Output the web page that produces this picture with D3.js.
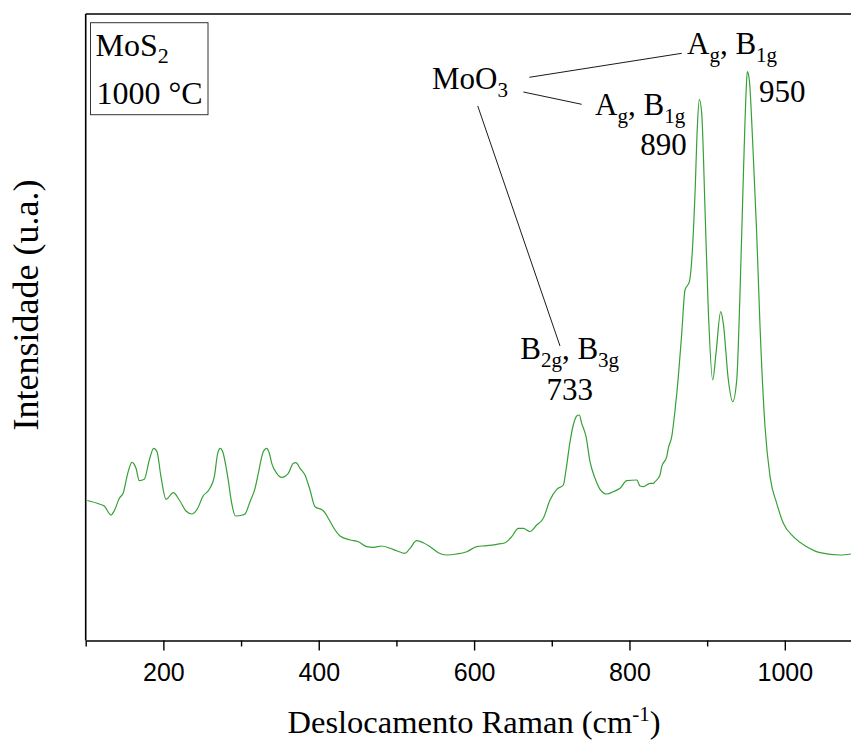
<!DOCTYPE html>
<html>
<head>
<meta charset="utf-8">
<script src="https://cdn.jsdelivr.net/npm/d3@7"></script>
<style>
  body { margin: 0; background: #fff; }
  svg { display: block; }
  .serif { font-family: "Liberation Serif", "Times New Roman", serif; fill: #000; }
</style>
</head>
<body>
<div id="chart"></div>
<script>
// Raman spectrum, MoS2 annealed at 1000 C
var ramanShift = [
  102, 117.5, 123.9, 132.6, 136.8, 143.3, 148.4, 154.1, 159.6, 164.8,
  169, 175.4, 181.9, 187.5, 191.8, 196.9, 203.4, 212.8, 220.5, 229.1,
  236.9, 244.2, 250.6, 259.1, 265.6, 269.9, 273.3, 276.4, 282.8, 288,
  292.6, 302.1, 305.1, 311.5, 318, 322.2, 328.6, 333, 336.4, 339.5,
  345.9, 352.3, 360.8, 367.3, 370.7, 375.9, 382.3, 388.8, 395.2, 405.9,
  413.6, 421, 427.4, 440.3, 450.9, 461.8, 470.3, 481.1, 491.8, 500.4,
  511.1, 517.5, 526.1, 534.6, 543.3, 553.9, 564.8, 577.6, 590.5, 603.4,
  616.2, 629.1, 639.8, 648.4, 656.9, 663.4, 672, 680.6, 689.1, 697.7,
  706.4, 714.9, 718.3, 723.5, 727.7, 732.1, 735.5, 738.5, 744.1, 749.2,
  755.7, 762.1, 770.7, 779.2, 787.8, 796.5, 809.4, 813.6, 817.8, 826.5,
  830.7, 832.9, 839.3, 841.5, 848, 850, 854.4, 858.7, 862.9, 867.3,
  871.5, 877.1, 880.2, 884.4, 887.4, 889.9, 893, 897.3, 901.5, 907.2,
  911.4, 917.5, 920.8, 927.3, 932.9, 938.1, 942.3, 946.6, 950.1, 951.7,
  954.3, 958.7, 963.8, 968.1, 974.5, 981, 989.6, 998.1, 1011, 1028.2,
  1045.3, 1071.1, 1085.2
];
var intensity = [
  140, 136.5, 134.5, 125.5, 129.8, 142.2, 147.8, 167.2, 178.2, 172.2,
  159.8, 161.2, 180.5, 192.2, 188.8, 163.8, 141.2, 147.8, 140.5, 129.5,
  126.5, 132.2, 143.8, 151.2, 163.8, 187.2, 192.2, 188.8, 163.8, 137.2,
  124.5, 125.5, 126.5, 138.8, 152.2, 167.2, 188.8, 192.2, 187.2, 177.2,
  167.2, 163.2, 167.2, 177.2, 177.8, 172.2, 165.5, 150.5, 133.8, 129.8,
  120.5, 110.5, 104.5, 100.5, 98.8, 93.8, 93.2, 94.5, 92.2, 89.8,
  87.2, 92.2, 99.8, 97.8, 93.8, 87.8, 85.5, 86.5, 88.8, 93.8,
  94.8, 96.2, 97.8, 103.8, 112.2, 112.2, 109, 115.5, 122.2, 140.5,
  151.2, 155.5, 170.5, 198.8, 215.5, 224.5, 225.5, 217.2, 203.8, 178.8,
  162.2, 151.2, 146.5, 148.8, 152.2, 159.8, 160.5, 154.5, 153.8, 157.2,
  157.2, 158.8, 165.5, 173.8, 183.8, 192.2, 203.8, 230.5, 263.8, 307.2,
  350.5, 358.8, 380.5, 447.2, 513.8, 541.2, 527.2, 430.5, 330.5, 260.5,
  287.2, 328.8, 317.2, 260.5, 238.8, 260.5, 347.2, 463.8, 547.2, 568.8,
  560.5, 497.2, 407.2, 313.8, 213.8, 163.8, 137.2, 117.2, 103.8, 93.8,
  87.8, 85.5, 86.5
];

var majorTicks = [200, 400, 600, 800, 1000];
var minorTicks = [100, 300, 500, 700, 900, 1100];

// peak labels: [wavenumber, intensity] anchors in data units
var labelMoO3 = [545.8, 551.5];
var labelTopMode = [874.1, 586.5];
var labelMidMode = [755.7, 525.5];
var label890 = [873.7, 485.5];
var label950 = [966.8, 538.8];
var labelBMode = [723, 281.5];
var label733 = [723, 240.5];
var leaders = [
  [[671.1, 563.2], [867.3, 587.2]],
  [[663.4, 548.5], [738.5, 536.2]],
  [[604.7, 534.5], [710.6, 294.5]]
];

var width = 851;
var height = 740;
var plotLeft = 85.7, plotTop = 14, plotBottom = 640.5;

var svg = d3
  .select('#chart')
  .append('svg')
  .attr('width', width)
  .attr('height', height)
;

var x = d3.scaleLinear().domain([100, 1100]).range([plotLeft, plotLeft + 776.8]);
var y = d3.scaleLinear().domain([0, 626.5]).range([plotBottom, plotTop]);

// frame: top and left lines
svg.append('line')
  .attr('x1', plotLeft).attr('x2', x(1100))
  .attr('y1', plotTop).attr('y2', plotTop)
  .attr('stroke', '#000').attr('stroke-width', 1.6)
;
svg.append('line')
  .attr('x1', plotLeft).attr('x2', plotLeft)
  .attr('y1', plotTop).attr('y2', plotBottom)
  .attr('stroke', '#000').attr('stroke-width', 1.6)
;

var xAxis = svg
  .append('g')
  .attr('transform', 'translate(0,' + plotBottom + ')')
  .call(d3.axisBottom(x).tickValues(majorTicks).tickFormat(d3.format('d'))
    .tickSize(10).tickPadding(13).tickSizeOuter(0))
;
xAxis.select('.domain').attr('stroke-width', 1.6);
xAxis.selectAll('.tick line').attr('stroke-width', 1.4);
xAxis.selectAll('.tick text')
  .attr('font-family', '"Liberation Sans", Arial, sans-serif')
  .attr('font-size', 25)
  .attr('fill', '#000')
;

svg.append('g')
  .attr('transform', 'translate(0,' + plotBottom + ')')
  .call(d3.axisBottom(x).tickValues(minorTicks).tickSize(6).tickFormat('').tickSizeOuter(0))
  .call(function(g) {
    g.select('.domain').remove();
    g.selectAll('.tick line').attr('stroke-width', 1.4);
  })
;

// spectrum
var points = ramanShift.map(function(d, i) { return [d, intensity[i]]; });
var line = d3.line()
  .curve(d3.curveMonotoneX)
  .x(function(d) { return x(d[0]); })
  .y(function(d) { return y(d[1]); })
;
svg.append('path')
  .datum(points)
  .attr('d', line)
  .attr('fill', 'none')
  .attr('stroke', '#36a036')
  .attr('stroke-width', 1.2)
;

// axis titles
var xTitle = svg.append('text')
  .attr('class', 'serif')
  .attr('x', x(600))
  .attr('y', 733)
  .attr('text-anchor', 'middle')
  .attr('font-size', 32.5)
;
xTitle.append('tspan').text('Deslocamento Raman (cm');
xTitle.append('tspan').attr('font-size', 21).attr('dy', -12).text('-1');
xTitle.append('tspan').attr('dy', 12).text(')');

svg.append('text')
  .attr('class', 'serif')
  .attr('transform', 'translate(38,305) rotate(-90)')
  .attr('text-anchor', 'middle')
  .attr('font-size', 36)
  .text('Intensidade (u.a.)')
;

// sample box
svg.append('rect')
  .attr('x', 90.5).attr('y', 22.7)
  .attr('width', 117.5).attr('height', 92)
  .attr('fill', '#fff')
  .attr('stroke', '#333')
  .attr('stroke-width', 1)
;
var boxT = svg.append('text').attr('class', 'serif').attr('x', 95.5).attr('y', 56).attr('font-size', 32);
boxT.append('tspan').text('MoS');
boxT.append('tspan').attr('font-size', 22).attr('dy', 7).text('2');
svg.append('text').attr('class', 'serif').attr('x', 96.5).attr('y', 103.5).attr('font-size', 32).text('1000 \u00b0C');

// label with subscripts: parts = [[text, isSub], ...]
function subText(pos, parts, anchor) {
  var t = svg.append('text')
    .attr('class', 'serif')
    .attr('x', x(pos[0]))
    .attr('y', y(pos[1]))
    .attr('font-size', 31)
    .attr('text-anchor', anchor || 'start')
  ;
  var shifted = false;
  parts.forEach(function(p) {
    var s = t.append('tspan').text(p[0]);
    if (p[1] && !shifted) { s.attr('font-size', 21).attr('dy', 8); shifted = true; }
    else if (p[1]) { s.attr('font-size', 21); }
    else if (shifted) { s.attr('dy', -8); shifted = false; }
  });
  return t;
}

subText(labelMoO3, [['MoO', 0], ['3', 1]]);
subText(labelTopMode, [['A', 0], ['g', 1], [', B', 0], ['1g', 1]]);
subText(labelMidMode, [['A', 0], ['g', 1], [', B', 0], ['1g', 1]]);
subText(label890, [['890', 0]], 'end');
subText(label950, [['950', 0]]);
subText(labelBMode, [['B', 0], ['2g', 1], [', B', 0], ['3g', 1]], 'middle');
subText(label733, [['733', 0]], 'middle');

svg.append('g')
  .selectAll('line')
  .data(leaders)
  .enter()
  .append('line')
  .attr('x1', function(d) { return x(d[0][0]); })
  .attr('y1', function(d) { return y(d[0][1]); })
  .attr('x2', function(d) { return x(d[1][0]); })
  .attr('y2', function(d) { return y(d[1][1]); })
  .attr('stroke', '#000')
  .attr('stroke-width', 0.9)
;
</script>
</body>
</html>
